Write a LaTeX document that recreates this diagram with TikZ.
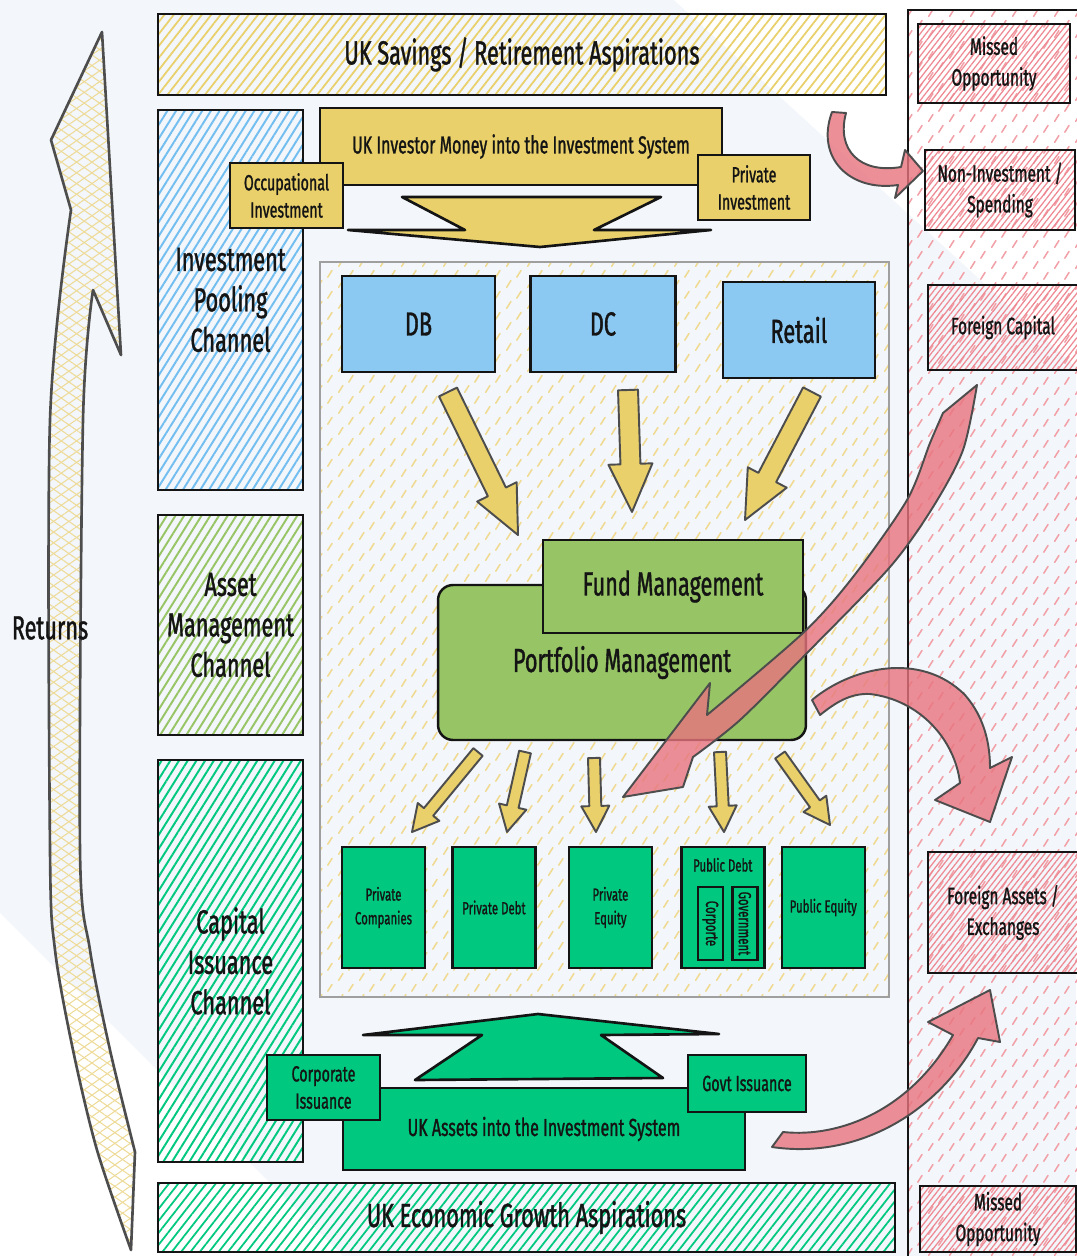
\documentclass[tikz,border=0pt]{standalone}
\usepackage{fontspec}
\setmainfont{Fira Sans}[FakeStretch=0.65, FakeBold=1.1]
\usetikzlibrary{positioning, calc, patterns, patterns.meta}

\definecolor{paper}{HTML}{F3F6FA}
\definecolor{ink}{HTML}{141414}
\definecolor{pencil}{HTML}{4D4D4D}
\definecolor{ochre}{HTML}{E9D06A}
\definecolor{ochretick}{HTML}{F0DA92}
\definecolor{straw}{HTML}{EEDB98}
\definecolor{sky}{HTML}{8BC9F3}
\definecolor{skyhatch}{HTML}{72BEF0}
\definecolor{leaf}{HTML}{97C565}
\definecolor{mint}{HTML}{00C87F}
\definecolor{rose}{HTML}{E8737E}
\definecolor{rosehatch}{HTML}{EE8791}
\definecolor{rosetick}{HTML}{F2A0A7}

% short sketchy ticks used as background texture
\pgfdeclarepatternformonly{ticks}{\pgfpointorigin}{\pgfqpoint{12pt}{12pt}}{\pgfqpoint{12pt}{12pt}}{%
  \pgfsetlinewidth{0.9pt}\pgfsetroundcap
  \pgfpathmoveto{\pgfqpoint{1pt}{1pt}}\pgfpathlineto{\pgfqpoint{3.5pt}{5pt}}%
  \pgfpathmoveto{\pgfqpoint{7pt}{7pt}}\pgfpathlineto{\pgfqpoint{9.5pt}{11pt}}%
  \pgfusepath{stroke}}

% block arrow: [options]{from}{to}{half shaft}{half head}{head length}
\newcommand{\blockarrow}[6][]{%
  \path (#2) coordinate (ba-s) (#3) coordinate (ba-e);
  \path ($(ba-e)!#6!(ba-s)$) coordinate (ba-h);
  \draw[flowarrow,#1] ($(ba-s)!#4!90:(ba-e)$) -- ($(ba-h)!#4!-90:(ba-s)$)
    -- ($(ba-h)!#5!-90:(ba-s)$) -- (ba-e) -- ($(ba-h)!#5!90:(ba-s)$)
    -- ($(ba-h)!#4!90:(ba-s)$) -- ($(ba-s)!#4!-90:(ba-e)$) -- cycle;
}

\begin{document}
\begin{tikzpicture}[
    x=0.02cm, y=-0.02cm,
    box/.style={draw=ink, line width=1.4pt, align=center, text=ink, inner sep=2pt},
    bigtext/.style={font=\fontsize{19}{23}\selectfont},
    midtext/.style={font=\fontsize{14}{17}\selectfont},
    smalltext/.style={font=\fontsize{12.5}{15.5}\selectfont},
    tinytext/.style={font=\fontsize{10}{13.5}\selectfont},
    sidetext/.style={font=\fontsize{13.5}{17.5}\selectfont},
    moneybox/.style={box, fill=ochre, smalltext},
    poolbox/.style={box, fill=sky, bigtext, minimum height=1.92cm},
    managebox/.style={box, fill=leaf, bigtext},
    assetbox/.style={box, fill=mint, tinytext, minimum width=1.66cm, minimum height=2.42cm},
    channel/.style={box, bigtext, minimum width=2.9cm,
      pattern={Lines[angle=58,distance=4.2pt,line width=1.1pt]}},
    bar/.style={box, bigtext, pattern={Lines[angle=52,distance=4.2pt,line width=1pt]}},
    missbox/.style={box, sidetext, pattern={Lines[angle=52,distance=2.6pt,line width=0.7pt]},
      pattern color=rosehatch},
    flowarrow/.style={draw=pencil, fill=ochre, line width=1.1pt, line join=round},
    bigflow/.style={draw=ink, line width=1.5pt, line join=round},
    redarrow/.style={draw=pencil, fill=rose, fill opacity=0.8, line width=1.1pt, line join=round},
    returnsarrow/.style={draw=pencil, line width=1.5pt, line join=round,
      pattern={Lines[angle=35,distance=5pt,line width=0.6pt]}, pattern color=straw,
      preaction={pattern={Lines[angle=-35,distance=5pt,line width=0.6pt]}, pattern color=straw}},
  ]
    \useasboundingbox (0,0) rectangle (1076,1256);

    % backdrop
    \fill[paper] (0,0) rectangle (1076,1256);
    \fill[white] (674,0) -- (1076,0) -- (1076,367) -- cycle;
    \fill[white] (0,913) -- (343,1256) -- (0,1256) -- cycle;

    % outside the system
    \draw[draw=ink, line width=1.4pt, pattern=ticks, pattern color=rosetick] (908,10) rectangle (1090,1270);

    % returns
    \draw[returnsarrow] (102,32) -- (121,355)
      -- plot[smooth] coordinates {(93,290) (83,420) (80,850) (90,950) (110,1050) (135,1152)}
      -- (131,1250)
      -- plot[smooth] coordinates {(131,1250) (97,1150) (73,1050) (55,950) (50,850) (50,420) (71,210)}
      -- (51,140) -- cycle;
    \node[bigtext, text=ink] (returns) at (50,628) {Returns};

    % the investment system
    \node[draw=gray!75, line width=1.3pt, pattern=ticks, pattern color=ochretick,
      minimum width=11.38cm, minimum height=14.7cm] (system) at (604.5,629.5) {};

    % channels
    \node[channel, pattern color=skyhatch, minimum height=7.6cm] (pooling) at (230.5,300) {Investment\\Pooling\\Channel};
    \node[channel, pattern color=leaf, minimum height=4.4cm] (assetmgmt) at (230.5,625) {Asset\\Management\\Channel};
    \node[channel, pattern color=mint, minimum height=8.04cm] (issuance) at (230.5,961) {Capital\\Issuance\\Channel};

    % aspirations
    \node[bar, pattern color=ochre, minimum width=14.56cm, minimum height=1.62cm] (savings) at (522,54.5) {UK Savings / Retirement Aspirations};
    \node[bar, pattern color=mint, minimum width=14.74cm, minimum height=1.38cm] (growth) at (526.5,1217.5) {UK Economic Growth Aspirations};

    % money in
    \draw[bigflow, fill=ochre] (402,197) -- (661,197) -- (594,230) -- (711,230) -- (540,247) -- (348,230) -- (465,230) -- cycle;
    \node[box, midtext, fill=ochre, minimum width=8.04cm, minimum height=1.54cm] (moneyin) at (521,146.5) {UK Investor Money into the Investment System};
    \node[moneybox, minimum width=2.26cm, minimum height=1.3cm] (occupational) at (286.5,195.5) {Occupational\\Investment};
    \node[moneybox, minimum width=2.24cm, minimum height=1.3cm] (private) at (754,187.5) {Private\\Investment};

    % pools
    \node[poolbox, minimum width=3.06cm] (db) at (418.5,324) {DB};
    \node[poolbox, minimum width=2.9cm, right=0.66cm of db] (dc) {DC};
    \node[poolbox, minimum width=3.04cm, right=0.9cm of dc, yshift=-0.12cm] (retail) {Retail};

    % pools into fund management
    \coordinate (from-db) at (448,392);
    \coordinate (from-dc) at (628,390);
    \coordinate (from-retail) at (812,392);
    \coordinate (to-fund-l) at (518,535);
    \coordinate (to-fund-m) at (632,512);
    \coordinate (to-fund-r) at (745,520);
    \blockarrow{from-db}{to-fund-l}{0.2cm}{0.44cm}{0.96cm}
    \blockarrow{from-dc}{to-fund-m}{0.2cm}{0.44cm}{0.96cm}
    \blockarrow{from-retail}{to-fund-r}{0.2cm}{0.44cm}{0.96cm}

    % management
    \node[managebox, rounded corners=0.3cm, minimum width=7.36cm, minimum height=3.1cm] (portfolio) at (622,662.5) {Portfolio Management};
    \node[managebox, minimum width=5.2cm, minimum height=1.86cm] (fund) at (673,586.5) {Fund Management};

    % assets
    \node[assetbox] (privco) at (383.5,907.5) {Private\\Companies};
    \node[assetbox, right=0.5cm of privco] (privdebt) {Private Debt};
    \node[assetbox, right=0.62cm of privdebt] (privequity) {Private\\Equity};
    \node[assetbox, right=0.54cm of privequity] (pubdebt) {};
    \node[assetbox, right=0.3cm of pubdebt] (pubequity) {Public Equity};
    \node[tinytext, text=ink, inner sep=0pt] (pubdebt-title) at ([yshift=-0.38cm]pubdebt.north) {Public Debt};
    \node[box, fill=mint, tinytext, rotate=-90, inner sep=0pt, minimum width=1.46cm, minimum height=0.5cm] (corp-debt) at ([xshift=-0.25cm,yshift=-0.32cm]pubdebt.center) {Corporte};
    \node[box, fill=mint, tinytext, rotate=-90, inner sep=0pt, minimum width=1.46cm, minimum height=0.5cm] (govt-debt) at ([xshift=0.44cm,yshift=-0.32cm]pubdebt.center) {Government};

    % management into assets
    \coordinate (out-1) at (478,752);
    \coordinate (out-2) at (525,752);
    \coordinate (out-3) at (594,758);
    \coordinate (out-4) at (720,752);
    \coordinate (out-5) at (780,755);
    \coordinate (in-1) at (412,832);
    \coordinate (in-2) at (507,832);
    \coordinate (in-3) at (596,832);
    \coordinate (in-4) at (724,832);
    \coordinate (in-5) at (830,825);
    \foreach \i in {1,...,5}{
      \blockarrow{out-\i}{in-\i}{0.12cm}{0.28cm}{0.52cm}
    }

    % assets in
    \draw[bigflow, fill=mint] (363,1035) -- (538,1014) -- (719,1034) -- (601,1035) -- (663,1078) -- (415,1080) -- (482,1035) -- cycle;
    \node[box, midtext, fill=mint, minimum width=8.04cm, minimum height=1.64cm] (assetsin) at (544,1129) {UK Assets into the Investment System};
    \node[box, smalltext, fill=mint, minimum width=2.26cm, minimum height=1.3cm] (corporate) at (323.5,1087.5) {Corporate\\Issuance};
    \node[box, smalltext, fill=mint, minimum width=2.36cm, minimum height=1.14cm] (govt) at (747,1083.5) {Govt Issuance};

    % leakage
    \node[missbox, minimum width=3.04cm, minimum height=1.58cm] (missed-top) at (994,63.5) {Missed\\Opportunity};
    \node[missbox, minimum width=3cm, minimum height=1.6cm] (spending) at (1000,190) {Non-Investment /\\Spending};
    \node[missbox, minimum width=3cm, minimum height=1.7cm] (foreign-capital) at (1003,327.5) {Foreign Capital};
    \node[missbox, minimum width=3cm, minimum height=2.42cm] (foreign-assets) at (1003,912.5) {Foreign Assets /\\Exchanges};
    \node[missbox, minimum width=3.12cm, minimum height=1.32cm] (missed-bottom) at (998,1219) {Missed\\Opportunity};

    % red flows
    \draw[redarrow] (846,113) .. controls (836,150) and (860,174) .. (901,167) -- (905,150) -- (923,171)
      -- (895,198) -- (898,185) .. controls (850,192) and (815,158) .. (832,112) -- cycle;
    \draw[redarrow] plot[smooth] coordinates {(977,385) (963,450) (933,507) (890,567) (807,653) (740,720) (693,757)}
      -- (683,787) -- (623,797) -- (710,683)
      -- plot[smooth] coordinates {(707,715) (803,633) (853,577) (907,500) (930,443) (943,413)} -- cycle;
    \draw[redarrow] (812,700) .. controls (850,668) and (920,650) .. (965,695) .. controls (985,718) and (990,745) .. (990,768)
      -- (1012,757) -- (990,822) -- (935,800) -- (960,783)
      .. controls (955,740) and (920,700) .. (870,694) .. controls (850,693) and (835,703) .. (820,715) -- cycle;
    \draw[redarrow] (783,1132) .. controls (840,1138) and (910,1110) .. (953,1035) -- (928,1022) -- (990,990)
      -- (1000,1042) -- (978,1038) .. controls (940,1110) and (860,1160) .. (772,1147) -- cycle;
  \end{tikzpicture}
\end{document}
